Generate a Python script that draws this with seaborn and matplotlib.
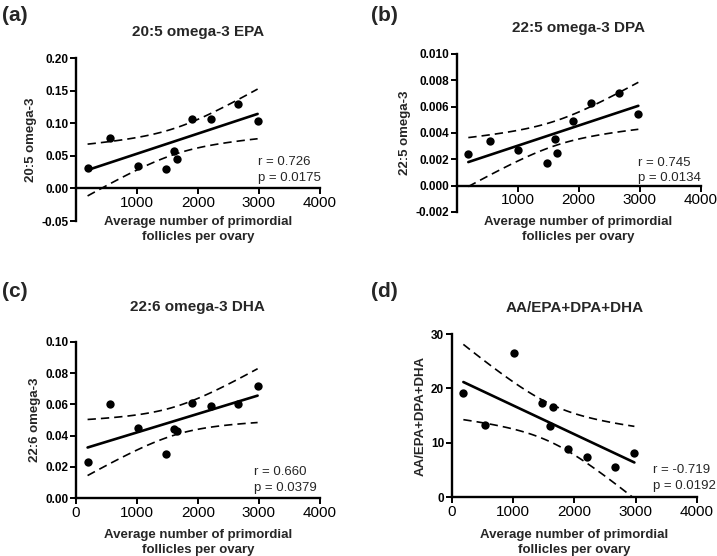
import numpy as np
import matplotlib
matplotlib.use("Agg")
import matplotlib.pyplot as plt
import seaborn as sns

# follicle counts, shared by all four panels
follicles = [190, 550, 1010, 1480, 1610, 1650, 1900, 2210, 2660, 2980]

epa = [0.031, 0.078, 0.035, 0.030, 0.058, 0.045, 0.107, 0.107, 0.130, 0.104]
dpa = [0.0024, 0.0034, 0.0027, 0.0017, 0.0035, 0.0025, 0.0049, 0.0063, 0.0070, 0.0054]
dha = [0.023, 0.060, 0.045, 0.028, 0.044, 0.043, 0.061, 0.059, 0.060, 0.072]
ratio = [19.2, 13.3, 26.5, 17.4, 13.0, 16.5, 8.8, 7.3, 5.6, 8.1]

panel_tags = ["(a)", "(b)", "(c)", "(d)"]
titles = ["20:5 omega-3 EPA", "22:5 omega-3 DPA", "22:6 omega-3 DHA", "AA/EPA+DPA+DHA"]
ylabels = ["20:5 omega-3", "22:5 omega-3", "22:6 omega-3", "AA/EPA+DPA+DHA"]
stats = ["r = 0.726\np = 0.0175", "r = 0.745\np = 0.0134",
         "r = 0.660\np = 0.0379", "r = -0.719\np = 0.0192"]
yticks = [
    [-0.05, 0.00, 0.05, 0.10, 0.15, 0.20],
    [-0.002, 0.000, 0.002, 0.004, 0.006, 0.008, 0.010],
    [0.00, 0.02, 0.04, 0.06, 0.08, 0.10],
    [0, 10, 20, 30],
]
yfmt = ["{:.2f}", "{:.3f}", "{:.2f}", "{:.0f}"]
xticks = [[1000, 2000, 3000, 4000], [1000, 2000, 3000, 4000],
          [0, 1000, 2000, 3000, 4000], [0, 1000, 2000, 3000, 4000]]
series = [epa, dpa, dha, ratio]

sns.set_theme(style="ticks")
plt.rcParams["font.family"] = ["Liberation Sans", "DejaVu Sans"]
plt.rcParams["axes.unicode_minus"] = False

fig = plt.figure(figsize=(7.17, 5.56), dpi=100)

boxes = [
    [0.106, 0.6025, 0.340, 0.293],
    [0.637, 0.619, 0.340, 0.284],
    [0.106, 0.104, 0.340, 0.281],
    [0.630, 0.106, 0.342, 0.293],
]
title_pad = [16, 16, 22, 16]
stat_pos = [(0.745, 0.397), (0.742, 0.348), (0.73, 0.204), (0.82, 0.202)]
xlabel_y = [0.03, -0.025, -0.195, -0.195]
tag_pos = [(0.003, 0.972), (0.518, 0.972), (0.003, 0.476), (0.518, 0.476)]

T_CRIT = 2.306  # t(0.975, df=8)

for i in range(4):
    ax = fig.add_axes(boxes[i])
    x = np.array(follicles, dtype=float)
    y = np.array(series[i], dtype=float)

    sns.regplot(x=x, y=y, ax=ax, ci=None, color="black",
                scatter_kws=dict(s=36, linewidths=0, alpha=1, zorder=3),
                line_kws=dict(lw=1.9))

    # 95% confidence band of the fitted line, drawn dashed
    n = len(x)
    slope, intercept = np.polyfit(x, y, 1)
    resid = y - (slope * x + intercept)
    s_err = np.sqrt(np.sum(resid ** 2) / (n - 2))
    xs = np.linspace(x.min(), x.max(), 100)
    fit = slope * xs + intercept
    half = T_CRIT * s_err * np.sqrt(1 / n + (xs - x.mean()) ** 2 / np.sum((x - x.mean()) ** 2))
    ax.plot(xs, fit + half, ls=(0, (5, 3)), color="black", lw=1.2)
    ax.plot(xs, fit - half, ls=(0, (5, 3)), color="black", lw=1.2)

    ax.set_xlim(0, 4000)
    ax.set_ylim(yticks[i][0], yticks[i][-1])
    ax.set_xticks(xticks[i])
    ax.set_xticklabels([str(v) for v in xticks[i]], fontweight="bold", fontsize=8.5)
    ax.set_yticks(yticks[i])
    ax.set_yticklabels([yfmt[i].format(v) for v in yticks[i]], fontweight="bold", fontsize=8.5)

    sns.despine(ax=ax)
    ax.spines["bottom"].set_position(("data", 0))
    for sp in ["left", "bottom"]:
        ax.spines[sp].set_linewidth(1.7)
        ax.spines[sp].set_color("black")
    ax.tick_params(direction="out", length=4, width=1.4, colors="black", pad=1.5)

    ax.set_title(titles[i], fontweight="bold", fontsize=11, pad=title_pad[i])
    ax.set_ylabel(ylabels[i], fontweight="bold", fontsize=9.5, labelpad=3)
    ax.set_xlabel("Average number of primordial\nfollicles per ovary",
                  fontweight="bold", fontsize=9.5, linespacing=1.35)
    ax.xaxis.set_label_coords(0.5, xlabel_y[i])

    ax.text(stat_pos[i][0], stat_pos[i][1], stats[i], transform=ax.transAxes,
            fontsize=9.5, va="top", ha="left", linespacing=1.4)

    fig.text(tag_pos[i][0], tag_pos[i][1], panel_tags[i], fontsize=15,
             fontweight="bold", va="center", ha="left")

fig.savefig("out.png", dpi=100)
